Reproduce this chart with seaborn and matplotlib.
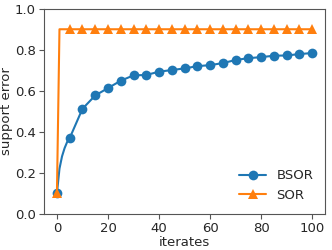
import matplotlib
matplotlib.use("Agg")
import matplotlib.pyplot as plt
import seaborn as sns
import pandas as pd

# BSOR: line points (markers every 5 iterates)
bsor_x = [0, 1, 2, 3, 4, 5, 10, 15, 20, 25, 30, 35, 40, 45, 50, 55, 60, 65, 70, 75, 80, 85, 90, 95, 100]
bsor_y = [0.10, 0.22, 0.28, 0.32, 0.35, 0.369, 0.512, 0.577, 0.613, 0.649, 0.675, 0.677, 0.693, 0.701,
          0.709, 0.720, 0.725, 0.735, 0.750, 0.759, 0.764, 0.771, 0.772, 0.779, 0.784]
bsor_marks = [0] + list(range(5, len(bsor_x)))

# SOR
sor_x = [0, 1, 5, 10, 15, 20, 25, 30, 35, 40, 45, 50, 55, 60, 65, 70, 75, 80, 85, 90, 95, 100]
sor_y = [0.10, 0.90, 0.90, 0.90, 0.90, 0.90, 0.90, 0.90, 0.90, 0.90, 0.90, 0.90, 0.90, 0.90, 0.90,
         0.90, 0.90, 0.90, 0.90, 0.90, 0.90, 0.90]
sor_marks = [0] + list(range(2, len(sor_x)))

sns.set_style("ticks")
plt.rcParams['font.family'] = ['DejaVu Sans']

fig, ax = plt.subplots(figsize=(3.32, 2.5), dpi=100)
fig.subplots_adjust(left=0.133, right=0.979, top=0.965, bottom=0.145)

sns.lineplot(x=bsor_x, y=bsor_y, ax=ax, color="#1f77b4", marker="o", markersize=7,
             markevery=bsor_marks, linewidth=1.5, label="BSOR", markeredgewidth=0)
sns.lineplot(x=sor_x, y=sor_y, ax=ax, color="#ff7f0e", marker="^", markersize=7,
             markevery=sor_marks, linewidth=1.5, label="SOR", markeredgewidth=0)

ax.set_ylim(0, 1.0)
ax.set_xlim(-5, 105)
ax.set_xticks([0, 20, 40, 60, 80, 100])
ax.set_yticks([0.0, 0.2, 0.4, 0.6, 0.8, 1.0])
ax.set_xlabel("iterates", fontsize=9.5, labelpad=1)
ax.set_ylabel("support error", fontsize=9.5, labelpad=1.5)
ax.tick_params(labelsize=9.5, color="#555555", length=3.5, width=0.8, pad=2.5)
for s in ax.spines.values():
    s.set_color("#555555")
    s.set_linewidth(0.8)

leg = ax.legend(loc="lower right", frameon=False, fontsize=9.5, handlelength=2.0)

fig.savefig("out.png", dpi=100)
